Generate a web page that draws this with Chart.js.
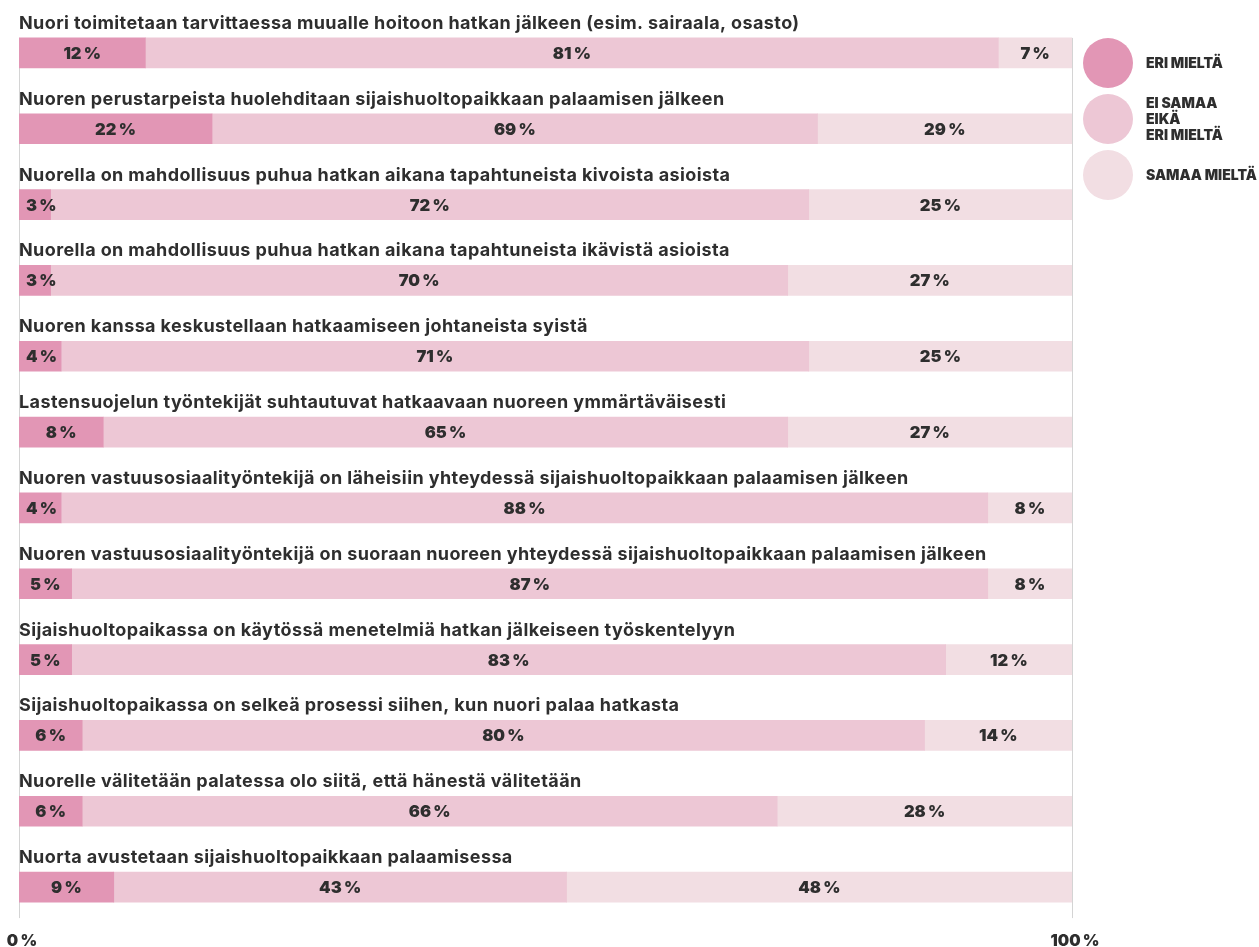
<!DOCTYPE html>
<html lang="fi">
<head>
<meta charset="utf-8">
<script src="https://cdn.jsdelivr.net/npm/chart.js@4"></script>
<style>
  body { margin: 0; background: #fff; }
  #wrap { position: relative; width: 1259px; height: 947px; }
</style>
</head>
<body>
<div id="wrap"><canvas id="chart"></canvas></div>
<script>
const questions = [
  'Nuori toimitetaan tarvittaessa muualle hoitoon hatkan jälkeen (esim. sairaala, osasto)',
  'Nuoren perustarpeista huolehditaan sijaishuoltopaikkaan palaamisen jälkeen',
  'Nuorella on mahdollisuus puhua hatkan aikana tapahtuneista kivoista asioista',
  'Nuorella on mahdollisuus puhua hatkan aikana tapahtuneista ikävistä asioista',
  'Nuoren kanssa keskustellaan hatkaamiseen johtaneista syistä',
  'Lastensuojelun työntekijät suhtautuvat hatkaavaan nuoreen ymmärtäväisesti',
  'Nuoren vastuusosiaalityöntekijä on läheisiin yhteydessä sijaishuoltopaikkaan palaamisen jälkeen',
  'Nuoren vastuusosiaalityöntekijä on suoraan nuoreen yhteydessä sijaishuoltopaikkaan palaamisen jälkeen',
  'Sijaishuoltopaikassa on käytössä menetelmiä hatkan jälkeiseen työskentelyyn',
  'Sijaishuoltopaikassa on selkeä prosessi siihen, kun nuori palaa hatkasta',
  'Nuorelle välitetään palatessa olo siitä, että hänestä välitetään',
  'Nuorta avustetaan sijaishuoltopaikkaan palaamisessa'
];
const eriMielta   = [12, 22, 3, 3, 4, 8, 4, 5, 5, 6, 6, 9];
const eiSamaaEika = [81, 69, 72, 70, 71, 65, 88, 87, 83, 80, 66, 43];
const samaaMielta = [7, 29, 25, 27, 25, 27, 8, 8, 12, 14, 28, 48];
const seriesNames = [['ERI MIELTÄ'], ['EI SAMAA', 'EIKÄ', 'ERI MIELTÄ'], ['SAMAA MIELTÄ']];
const seriesColors = ['#e296b5', '#edc7d5', '#f2dee3'];
const xTicks = [0, 100];

const raw = [eriMielta, eiSamaaEika, samaaMielta];
// each row is scaled to fill the whole bar
const totals = questions.map((q, i) => raw.reduce((s, arr) => s + arr[i], 0));

const textColor = '#2e2e2e';
const titleFont = '700 18px Inter';
const valueFont = '900 16.5px Inter';

const rowTitles = {
  id: 'rowTitles',
  afterDatasetsDraw(chart) {
    const ctx = chart.ctx;
    const left = chart.chartArea.left;
    ctx.save();
    ctx.font = titleFont;
    ctx.letterSpacing = '0.4px';
    ctx.fillStyle = textColor;
    ctx.textAlign = 'left';
    ctx.textBaseline = 'alphabetic';
    chart.getDatasetMeta(0).data.forEach((bar, i) => {
      ctx.fillText(questions[i], left, bar.y - bar.height / 2 - 9);
    });
    ctx.restore();
  }
};

const valueLabels = {
  id: 'valueLabels',
  afterDatasetsDraw(chart) {
    const ctx = chart.ctx;
    ctx.save();
    ctx.font = valueFont;
    ctx.fillStyle = textColor;
    ctx.textAlign = 'center';
    ctx.textBaseline = 'middle';
    chart.data.datasets.forEach((ds, d) => {
      chart.getDatasetMeta(d).data.forEach((bar, i) => {
        const p = bar.getProps(['x', 'y', 'base'], true);
        const txt = ds.raw[i] + '\u2009%';
        const w = ctx.measureText(txt).width;
        // keep narrow segment labels off the left edge
        const cx = Math.max((p.x + p.base) / 2, p.base + 7 + w / 2);
        ctx.fillText(txt, cx, p.y + 1);
      });
    });
    ctx.restore();
  }
};

const edgeLines = {
  id: 'edgeLines',
  beforeDatasetsDraw(chart) {
    const ctx = chart.ctx;
    const x = chart.scales.x;
    const bars = chart.getDatasetMeta(0).data;
    const top = bars[0].y - bars[0].height / 2;
    const bottom = bars[bars.length - 1].y + bars[bars.length - 1].height / 2 + 16;
    ctx.save();
    ctx.strokeStyle = '#d4d4d4';
    ctx.lineWidth = 1;
    xTicks.forEach(t => {
      const px = Math.round(x.getPixelForValue(t)) + 0.5;
      ctx.beginPath();
      ctx.moveTo(px, top);
      ctx.lineTo(px, bottom);
      ctx.stroke();
    });
    ctx.restore();
  }
};

const sideLegend = {
  id: 'sideLegend',
  afterDraw(chart) {
    const ctx = chart.ctx;
    const cx = chart.chartArea.right + 36;
    ctx.save();
    seriesNames.forEach((lines, i) => {
      const cy = 63 + i * 56;
      ctx.fillStyle = seriesColors[i];
      ctx.beginPath();
      ctx.arc(cx, cy, 25, 0, Math.PI * 2);
      ctx.fill();
      ctx.fillStyle = textColor;
      ctx.font = '900 14px Inter';
      ctx.textAlign = 'left';
      ctx.textBaseline = 'middle';
      const lh = 16;
      lines.forEach((t, j) => {
        ctx.fillText(t, cx + 38, cy + 1 + (j - (lines.length - 1) / 2) * lh);
      });
    });
    ctx.restore();
  }
};

new Chart(document.getElementById('chart'), {
  type: 'bar',
  data: {
    labels: questions,
    datasets: raw.map((arr, d) => ({
      label: seriesNames[d].join(' '),
      raw: arr,
      data: arr.map((v, i) => v / totals[i] * 100),
      backgroundColor: seriesColors[d],
      borderWidth: 0,
      barThickness: 30
    }))
  },
  options: {
    indexAxis: 'y',
    responsive: true,
    maintainAspectRatio: false,
    animation: false,
    layout: { padding: { left: 19, right: 187, top: 15, bottom: 0 } },
    scales: {
      x: {
        stacked: true,
        min: 0,
        max: 100,
        border: { display: false },
        grid: { display: false, drawTicks: false },
        afterBuildTicks: axis => { axis.ticks = xTicks.map(v => ({ value: v })); },
        afterFit: axis => {
          axis.height = 22;
          axis.paddingLeft = 0;
          axis.paddingRight = 0;
        },
        ticks: {
          padding: 7,
          labelOffset: 3,
          color: textColor,
          font: { family: 'Inter', size: 16, weight: 900 },
          callback: v => v + '\u2009%'
        }
      },
      y: {
        stacked: true,
        display: false
      }
    },
    plugins: {
      legend: { display: false },
      tooltip: { enabled: false }
    }
  },
  plugins: [edgeLines, rowTitles, valueLabels, sideLegend]
});
</script>
</body>
</html>
